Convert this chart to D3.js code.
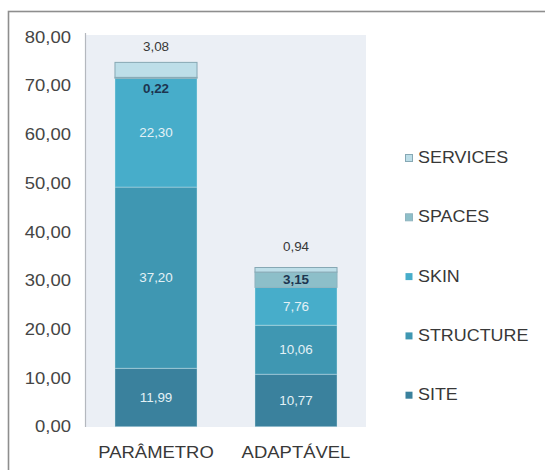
<!DOCTYPE html>
<html>
<head>
<meta charset="utf-8">
<script src="https://cdn.jsdelivr.net/npm/d3@7"></script>
<style>
  html, body { margin: 0; padding: 0; background: #fff; }
  svg { display: block; font-family: "Liberation Sans", Arial, sans-serif; }
</style>
</head>
<body>
<svg id="chart" width="545" height="470"></svg>
<script>
// Categories and stacked series (bottom to top)
const categories = ["PARÂMETRO", "ADAPTÁVEL"];
const seriesNames = ["SITE", "STRUCTURE", "SKIN", "SPACES", "SERVICES"];
const site = [11.99, 10.77];
const structure = [37.20, 10.06];
const skin = [22.30, 7.76];
const spaces = [0.22, 3.15];
const services = [3.08, 0.94];
const yTicks = [0, 10, 20, 30, 40, 50, 60, 70, 80];

const seriesValues = [site, structure, skin, spaces, services];
const colors = ["#3a819d", "#3f97b2", "#47adca", "#8dbfc9", "#bddeE8"];
const strokes = ["rgba(225,245,250,0.35)", "rgba(225,245,250,0.35)", "rgba(225,245,250,0.35)", "#8fb4bf", "#86a8b4"];

const rows = categories.map((c, i) => {
  const r = { category: c };
  seriesNames.forEach((s, k) => { r[s] = seriesValues[k][i]; });
  return r;
});

const svg = d3.select("#chart");
const fmt = v => d3.format(".2f")(v).replace(".", ",");

// stretched text helper (wide glyph proportions)
const SX = 1.12;
function txt(g, x, y, str, opts) {
  const t = g.append("text")
    .attr("transform", `translate(${x},${y}) scale(${SX},1)`)
    .attr("text-anchor", opts.anchor || "middle")
    .attr("dominant-baseline", "central")
    .attr("font-size", opts.size)
    .attr("fill", opts.fill)
    .text(str);
  if (opts.weight) t.attr("font-weight", opts.weight);
  return t;
}

// outer frame
svg.append("rect")
  .attr("x", 8.5).attr("y", 11.5).attr("width", 560).attr("height", 480)
  .attr("fill", "#fff").attr("stroke", "#8e8e8e").attr("stroke-width", 1.6);

const plot = { left: 86, right: 366, top: 35, bottom: 427 };

const x = d3.scaleBand().domain(categories)
  .range([plot.left, plot.right]).paddingInner(0.414).paddingOuter(0.207);
const y = d3.scaleLinear().domain([0, 80]).range([426.7, 37]);

// plot background
svg.append("rect")
  .attr("x", plot.left).attr("y", plot.top)
  .attr("width", plot.right - plot.left).attr("height", plot.bottom - plot.top)
  .attr("fill", "#ebeff5");

// y axis
const yAxis = d3.axisLeft(y).tickValues(yTicks).tickSize(0).tickFormat(() => "");
const ya = svg.append("g").attr("transform", `translate(${plot.left - 0.5},0)`).call(yAxis);
ya.select(".domain").attr("stroke", "#b4b8be").attr("stroke-width", 1.2)
  .attr("d", `M0,${plot.top - 2}V${plot.bottom}`);
yTicks.forEach(t => {
  txt(svg, 71, y(t), fmt(t), { anchor: "end", size: 16.5, fill: "#454545" });
});

// stacked bars
const stack = d3.stack().keys(seriesNames)(rows);
const layers = svg.append("g");
stack.forEach((layer, k) => {
  layers.selectAll(null).data(layer).enter().append("rect")
    .attr("x", d => x(d.data.category))
    .attr("width", x.bandwidth())
    .attr("y", d => y(d[1]))
    .attr("height", d => y(d[0]) - y(d[1]))
    .attr("fill", colors[k])
    .attr("stroke", strokes[k])
    .attr("stroke-width", 1);
});

// data labels
const labels = svg.append("g");
stack.forEach((layer, k) => {
  layer.forEach(d => {
    const cx = x(d.data.category) + x.bandwidth() / 2;
    const top = y(d[1]), bot = y(d[0]);
    const v = d[1] - d[0];
    let cy = (top + bot) / 2;
    let fill = "#e3f1f6", weight = null;
    if (seriesNames[k] === "SERVICES") {
      cy = cy - 23; fill = "#383838";
    } else if (seriesNames[k] === "SPACES") {
      fill = "#1d3550"; weight = "bold";
      if (bot - top < 12) cy = bot + 10;
    }
    txt(labels, cx, cy, fmt(v), { size: 12, fill: fill, weight: weight });
  });
});

// category labels
categories.forEach(c => {
  txt(svg, x(c) + x.bandwidth() / 2, 452, c, { size: 16.5, fill: "#383838" });
});

// legend (top entry = top of stack)
const legendOrder = seriesNames.slice().reverse();
legendOrder.forEach((s, i) => {
  const ly = 158 + i * 59.3;
  const k = seriesNames.indexOf(s);
  svg.append("rect").attr("x", 405.5).attr("y", ly - 3.5).attr("width", 7).attr("height", 7)
    .attr("fill", colors[k])
    .attr("stroke", k >= 3 ? strokes[k] : "none");
  txt(svg, 418, ly, s, { anchor: "start", size: 16, fill: "#383838" });
});
</script>
</body>
</html>
